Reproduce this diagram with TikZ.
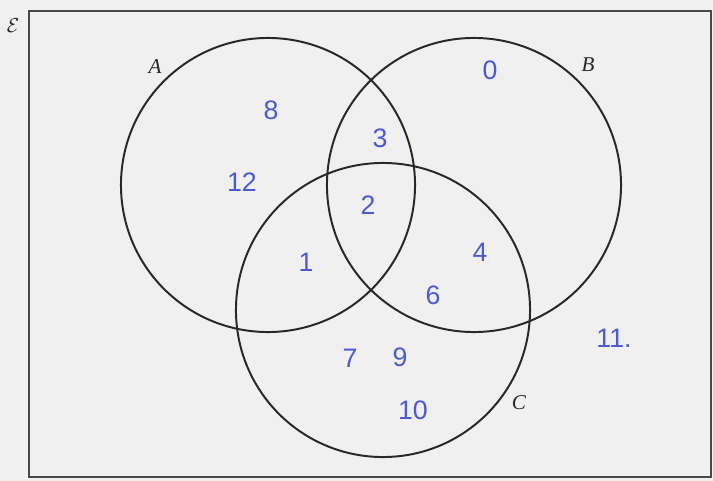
\documentclass[tikz,border=0pt]{standalone}
\usepackage{amsmath,amssymb}
\usepackage{fontspec}
\usetikzlibrary{positioning}
\newfontfamily\handfont{Liberation Sans}
\newfontfamily\labfont{Liberation Serif}
\definecolor{ink}{RGB}{40,40,40}
\definecolor{paper}{RGB}{240,240,240}
\definecolor{pen}{RGB}{75,90,210}
\tikzset{
  frame/.style={draw=ink!85,line width=1.6pt},
  setcirc/.style={circle,draw=ink,line width=1.4pt,minimum size=7.35cm,inner sep=0pt},
  setname/.style={font=\labfont\itshape\fontsize{15}{17}\selectfont,text=ink},
  num/.style={font=\handfont\fontsize{19}{22}\selectfont,text=pen},
}
\begin{document}
\begin{tikzpicture}[x=0.025cm,y=-0.025cm]
\fill[paper] (0,0) rectangle (713,481);
\useasboundingbox (0,0) rectangle (713,481);
\draw[frame] (29,11) rectangle (711,477);
\node[text=ink,font=\fontsize{14}{16}\selectfont] (U) at (13,26) {$\mathcal{E}$};
% the three sets
\node[setcirc] (A) at (268,185) {};
\node[setcirc] (B) at (474,185) {};
\node[setcirc] (C) at (383,310) {};
\node[setname] (labA) at (155,67) {A};
\node[setname] (labB) at (588,65) {B};
\node[setname] (labC) at (519,403) {C};
% elements
\node[num] (n8) at (271,110) {8};
\node[num] (n12) at (242,182) {12};
\node[num] (n0) at (490,70) {0};
\node[num] (n3) at (380,138) {3};
\node[num] (n2) at (368,205) {2};
\node[num] (n1) at (306,262) {1};
\node[num] (n4) at (480,252) {4};
\node[num] (n6) at (433,295) {6};
\node[num] (n7) at (350,358) {7};
\node[num] (n9) at (400,357) {9};
\node[num] (n10) at (413,410) {10};
\node[num] (n11) at (614,338) {11.};
\end{tikzpicture}
\end{document}
